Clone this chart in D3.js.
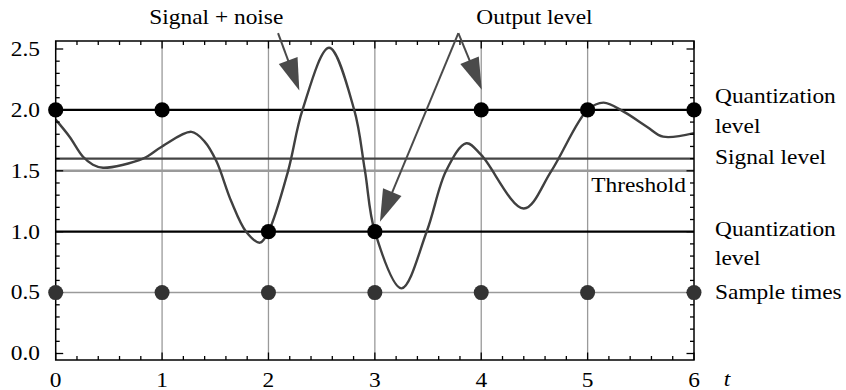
<!DOCTYPE html>
<html>
<head>
<meta charset="utf-8">
<script src="https://cdn.jsdelivr.net/npm/d3@7"></script>
<style>
  html, body { margin: 0; padding: 0; background: #fff; }
</style>
</head>
<body>
<svg id="chart" width="846" height="390"></svg>
<script>
// Signal + noise waveform, sampled as (t, value)
const signalT = [0, 0.13, 0.257, 0.35, 0.445, 0.82, 1.0, 1.276, 1.40, 1.51, 1.65, 1.79, 1.92, 2.0, 2.185, 2.32, 2.57, 2.806, 2.907, 3.0, 3.25, 3.487, 3.67, 3.86, 4.0, 4.40, 4.66, 5.0, 5.15, 5.35, 5.56, 5.71, 6.0];
const signalV = [1.92, 1.78, 1.615, 1.55, 1.525, 1.60, 1.70, 1.82, 1.74, 1.58, 1.25, 1.0, 0.91, 1.0, 1.5, 2.0, 2.51, 2.0, 1.5, 1.0, 0.535, 1.0, 1.5, 1.726, 1.63, 1.19, 1.5, 2.0, 2.06, 1.98, 1.86, 1.78, 1.81];

// Sample instants and the quantized output at each of them
const sampleTimes = [0, 1, 2, 3, 4, 5, 6];
const outputLevels = [2, 2, 1, 1, 2, 2, 2];
const sampleMarkLevel = 0.5;

// Reference levels
const quantLevels = [2.0, 1.0];
const signalLevel = 1.6;
const thresholdLevel = 1.5;

// Axis ticks
const xTickValues = [0, 1, 2, 3, 4, 5, 6];
const xTickLabels = ["0", "1", "2", "3", "4", "5", "6"];
const yTickValues = [0, 0.5, 1.0, 1.5, 2.0, 2.5];
const yTickLabels = ["0.0", "0.5", "1.0", "1.5", "2.0", "2.5"];
const xMinorStep = 0.2;
const yMinorStep = 0.1;

// Right-hand labels: [text, value]
const sideLabels = [["Quantization", 2.114], ["level", 1.868], ["Signal level", 1.613], ["Quantization", 1.022], ["level", 0.784], ["Sample times", 0.505]];

// Annotation arrows (data units): label, label position, arrow tails and tips
const annSignalText = "Signal + noise";
const annSignalPos = [1.51, 2.76];
const annSignalArrows = [[[2.09, 2.63], [2.29, 2.16]]];
const annOutputText = "Output level";
const annOutputPos = [4.5, 2.76];
const annOutputArrows = [[[3.785, 2.63], [4.005, 2.165]], [[3.785, 2.63], [3.048, 1.082]]];

const FONT = "'Liberation Serif', 'Times New Roman', Times, 'DejaVu Serif', serif";
const FONT_SIZE = 20;
const WIDEN = 1.17;

const svg = d3.select("#chart");
const M = { left: 55.7, right: 694, top: 41, bottom: 360 };

const x = d3.scaleLinear().domain([0, 6]).range([M.left, M.right]);
const y = d3.scaleLinear().domain([-0.0533, 2.5657]).range([M.bottom, M.top]);

// Text helper: serif face, slightly widened glyphs
function label(px, py, str, anchor, opts = {}) {
  const t = svg.append("text")
    .attr("transform", `translate(${px},${py}) scale(${WIDEN},1)`)
    .attr("text-anchor", anchor || "start")
    .attr("dy", opts.dy || 0)
    .attr("font-family", FONT)
    .attr("font-size", FONT_SIZE)
    .attr("fill", "#000")
    .text(str);
  if (opts.italic) t.attr("font-style", "italic");
  return t;
}

svg.append("defs").append("clipPath").attr("id", "plotclip")
  .append("rect").attr("x", M.left).attr("y", M.top)
  .attr("width", M.right - M.left).attr("height", M.bottom - M.top);

const plot = svg.append("g");

// Vertical grid at integer t
plot.selectAll("line.vgrid").data(xTickValues.slice(1, -1)).enter().append("line")
  .attr("x1", d => x(d)).attr("x2", d => x(d))
  .attr("y1", M.top).attr("y2", M.bottom)
  .attr("stroke", "#9a9a9a").attr("stroke-width", 1.3);

// Sample-time line
plot.append("line")
  .attr("x1", M.left).attr("x2", M.right)
  .attr("y1", y(sampleMarkLevel)).attr("y2", y(sampleMarkLevel))
  .attr("stroke", "#9a9a9a").attr("stroke-width", 1.5);

// Threshold
plot.append("line")
  .attr("x1", M.left).attr("x2", M.right)
  .attr("y1", y(thresholdLevel)).attr("y2", y(thresholdLevel))
  .attr("stroke", "#9a9a9a").attr("stroke-width", 2.6);

// Signal level
plot.append("line")
  .attr("x1", M.left).attr("x2", M.right)
  .attr("y1", y(signalLevel)).attr("y2", y(signalLevel))
  .attr("stroke", "#444").attr("stroke-width", 2.2);

// Quantization levels
plot.selectAll("line.quant").data(quantLevels).enter().append("line")
  .attr("x1", M.left).attr("x2", M.right)
  .attr("y1", d => y(d)).attr("y2", d => y(d))
  .attr("stroke", "#000").attr("stroke-width", 2.2);

// Threshold label
label(x(6) - 8, y(thresholdLevel) + 21, "Threshold", "end");

// Signal + noise curve
const pts = signalT.map((t, i) => [t, signalV[i]]);
plot.append("path")
  .datum(pts)
  .attr("clip-path", "url(#plotclip)")
  .attr("fill", "none")
  .attr("stroke", "#404040")
  .attr("stroke-width", 2.4)
  .attr("d", d3.line().x(d => x(d[0])).y(d => y(d[1])).curve(d3.curveCatmullRom.alpha(0.5)));

// Frame
svg.append("rect")
  .attr("x", M.left).attr("y", M.top)
  .attr("width", M.right - M.left).attr("height", M.bottom - M.top)
  .attr("fill", "none").attr("stroke", "#000").attr("stroke-width", 1.5);

// Ticks (inward on all four sides)
const xMinor = d3.range(0, 6 + 1e-9, xMinorStep);
const yMinor = d3.range(0, 2.5 + 1e-9, yMinorStep);
const isMajor = (v, list) => list.some(m => Math.abs(m - v) < 1e-6);
const tickG = svg.append("g").attr("stroke", "#000").attr("stroke-width", 1.3);
xMinor.forEach(v => {
  const L = isMajor(v, xTickValues) ? 7.5 : 4;
  tickG.append("line").attr("x1", x(v)).attr("x2", x(v)).attr("y1", M.bottom).attr("y2", M.bottom - L);
  tickG.append("line").attr("x1", x(v)).attr("x2", x(v)).attr("y1", M.top).attr("y2", M.top + L);
});
yMinor.forEach(v => {
  const L = isMajor(v, yTickValues) ? 7.5 : 4;
  tickG.append("line").attr("y1", y(v)).attr("y2", y(v)).attr("x1", M.left).attr("x2", M.left + L);
  tickG.append("line").attr("y1", y(v)).attr("y2", y(v)).attr("x1", M.right).attr("x2", M.right - L);
});

// Tick labels
xTickValues.forEach((d, i) => label(x(d), 386.5, xTickLabels[i], "middle"));
label(x(6) + 33, 386, "t", "middle", { italic: true });
yTickValues.forEach((d, i) => label(40, y(d), yTickLabels[i], "end", { dy: "0.34em" }));

// Sample-time dots
svg.selectAll("circle.samp").data(sampleTimes).enter().append("circle")
  .attr("cx", d => x(d)).attr("cy", y(sampleMarkLevel))
  .attr("r", 7.5).attr("fill", "#333");

// Quantized output dots
svg.selectAll("circle.out").data(sampleTimes).enter().append("circle")
  .attr("cx", d => x(d)).attr("cy", (d, i) => y(outputLevels[i]))
  .attr("r", 7.6).attr("fill", "#000");

// Right-hand labels
sideLabels.forEach(d => label(715, y(d[1]), d[0], "start", { dy: "0.34em" }));

// Annotation arrows
function arrow(tail, tip) {
  const x0 = x(tail[0]), y0 = y(tail[1]), x1 = x(tip[0]), y1 = y(tip[1]);
  const dx = x1 - x0, dy = y1 - y0, len = Math.hypot(dx, dy);
  const ux = dx / len, uy = dy / len;
  const headLen = 32, halfW = 10;
  const bx = x1 - ux * headLen, by = y1 - uy * headLen;
  const g = svg.append("g");
  g.append("line").attr("x1", x0).attr("y1", y0).attr("x2", bx + ux * 2).attr("y2", by + uy * 2)
    .attr("stroke", "#4a4a4a").attr("stroke-width", 2);
  g.append("path")
    .attr("d", `M${x1},${y1}L${bx - uy * halfW},${by + ux * halfW}L${bx + uy * halfW},${by - ux * halfW}Z`)
    .attr("fill", "#4a4a4a");
}
annSignalArrows.forEach(a => arrow(a[0], a[1]));
annOutputArrows.forEach(a => arrow(a[0], a[1]));

label(x(annSignalPos[0]), y(annSignalPos[1]), annSignalText, "middle", { dy: "0.34em" });
label(x(annOutputPos[0]), y(annOutputPos[1]), annOutputText, "middle", { dy: "0.34em" });
</script>
</body>
</html>
